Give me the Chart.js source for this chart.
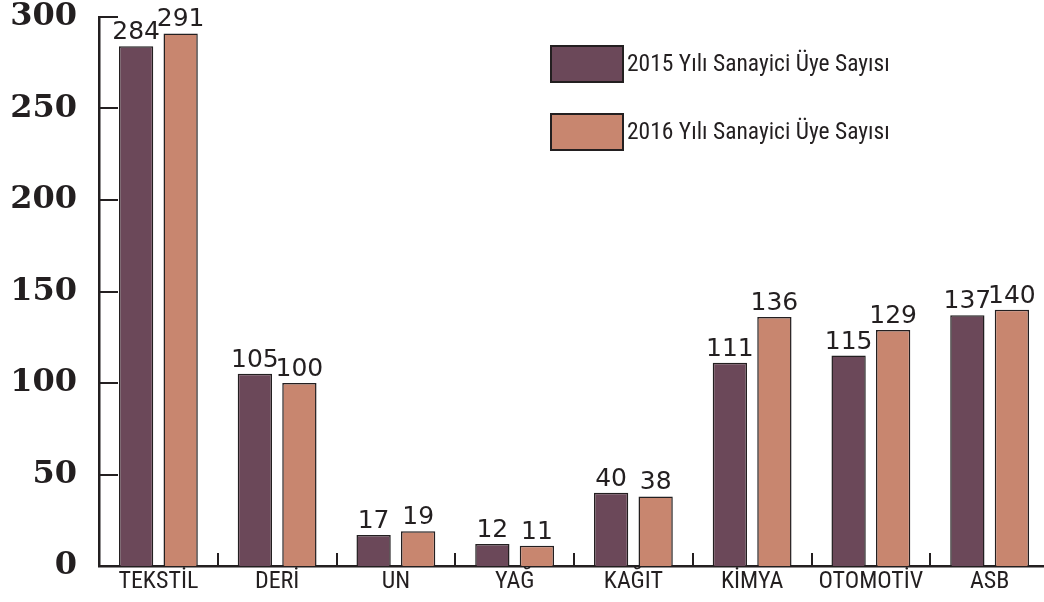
<!DOCTYPE html>
<html>
<head>
<meta charset="utf-8">
<script src="https://cdn.jsdelivr.net/npm/chart.js@4.4.1/dist/chart.umd.min.js"></script>
<style>
  html, body { margin: 0; padding: 0; background: #ffffff; overflow: hidden; }
  #wrap { width: 1049px; height: 602px; }
</style>
</head>
<body>
<div id="wrap"><canvas id="c" width="1049" height="602"></canvas></div>
<script>
const categories = ["TEKSTİL", "DERİ", "UN", "YAĞ", "KAĞIT", "KİMYA", "OTOMOTİV", "ASB"];
const values2015 = [284, 105, 17, 12, 40, 111, 115, 137];
const values2016 = [291, 100, 19, 11, 38, 136, 129, 140];
const seriesLabels = ["2015 Yılı Sanayici Üye Sayısı", "2016 Yılı Sanayici Üye Sayısı"];
const yTicks = [0, 50, 100, 150, 200, 250, 300];

const INK = '#231f20';
const COLOR_2015 = '#6b4859';
const COLOR_2016 = '#c8866f';
const NARROW = "'Liberation Sans Narrow', 'Roboto Condensed', 'Arial Narrow', 'Liberation Sans', sans-serif";

const inwardTicks = {
  id: 'inwardTicks',
  afterDatasetsDraw(chart) {
    const ctx = chart.ctx;
    const y = chart.scales.y, x = chart.scales.x;
    const area = chart.chartArea;
    ctx.save();
    ctx.strokeStyle = INK;
    ctx.lineWidth = 2;
    ctx.beginPath();
    yTicks.forEach(v => {
      const py = Math.round(y.getPixelForValue(v));
      ctx.moveTo(area.left, py);
      ctx.lineTo(area.left + 19, py);
    });
    for (let i = 1; i < categories.length; i++) {
      const px = Math.round((x.getPixelForValue(i - 1) + x.getPixelForValue(i)) / 2);
      ctx.moveTo(px, area.bottom);
      ctx.lineTo(px, area.bottom - 13);
    }
    ctx.stroke();
    ctx.restore();
  }
};

const valueLabels = {
  id: 'valueLabels',
  afterDatasetsDraw(chart) {
    const ctx = chart.ctx;
    ctx.save();
    ctx.fillStyle = INK;
    ctx.font = "25px 'DejaVu Sans', sans-serif";
    ctx.textAlign = 'center';
    ctx.textBaseline = 'alphabetic';
    chart.data.datasets.forEach((ds, di) => {
      const meta = chart.getDatasetMeta(di);
      meta.data.forEach((bar, i) => {
        ctx.fillText(String(ds.data[i]), bar.x, bar.y - 7);
      });
    });
    ctx.restore();
  }
};

const boxLegend = {
  id: 'boxLegend',
  afterDraw(chart) {
    const ctx = chart.ctx;
    ctx.save();
    chart.data.datasets.forEach((ds, i) => {
      const bx = 551, by = 46 + i * 68, bw = 72, bh = 36;
      ctx.fillStyle = ds.backgroundColor;
      ctx.fillRect(bx, by, bw, bh);
      ctx.strokeStyle = INK;
      ctx.lineWidth = 2;
      ctx.strokeRect(bx, by, bw, bh);
      ctx.fillStyle = INK;
      ctx.font = "23.5px " + NARROW;
      ctx.textAlign = 'left';
      ctx.textBaseline = 'middle';
      ctx.fillText(ds.label, bx + 76, by + bh / 2 + 1);
    });
    ctx.restore();
  }
};

new Chart(document.getElementById('c'), {
  type: 'bar',
  data: {
    labels: categories,
    datasets: [
      { label: seriesLabels[0], data: values2015, backgroundColor: COLOR_2015, borderColor: INK, borderWidth: 1.5,
        categoryPercentage: 0.75, barPercentage: 0.77 },
      { label: seriesLabels[1], data: values2016, backgroundColor: COLOR_2016, borderColor: INK, borderWidth: 1.5,
        categoryPercentage: 0.75, barPercentage: 0.77 }
    ]
  },
  options: {
    responsive: false,
    animation: false,
    layout: { padding: { top: 17, right: 0, left: 0, bottom: 0 } },
    plugins: {
      legend: { display: false },
      tooltip: { enabled: false }
    },
    scales: {
      x: {
        grid: { display: false, drawTicks: false },
        border: { display: true, color: INK, width: 2.5 },
        ticks: { color: INK, padding: 4, font: { family: NARROW, size: 24, lineHeight: 1 } },
        afterFit(scale) { scale.height = 36; scale.paddingLeft = 0; scale.paddingRight = 0; }
      },
      y: {
        min: 0, max: 300,
        grid: { display: false, drawTicks: false },
        border: { display: true, color: INK, width: 2.5 },
        afterBuildTicks(scale) { scale.ticks = yTicks.map(v => ({ value: v })); },
        ticks: { color: INK, padding: 22, font: { family: "'DejaVu Serif', serif", size: 32, weight: 'bold', lineHeight: 1 } },
        afterFit(scale) { scale.width = 99; scale.paddingTop = 0; scale.paddingBottom = 0; }
      }
    }
  },
  plugins: [inwardTicks, valueLabels, boxLegend]
});
</script>
</body>
</html>
